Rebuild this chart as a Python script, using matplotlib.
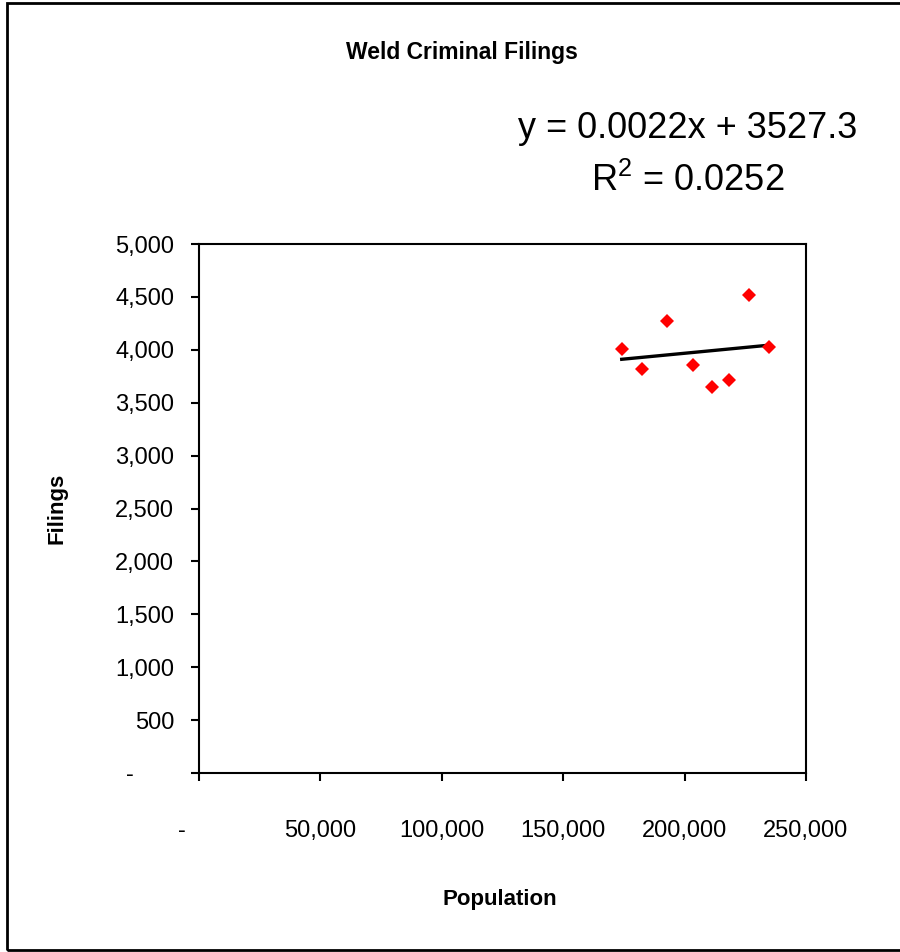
import matplotlib
matplotlib.use("Agg")
import matplotlib.pyplot as plt
import matplotlib.transforms as mtransforms
from matplotlib.patches import Rectangle
import numpy as np

plt.rcParams['font.family'] = ['Liberation Sans', 'DejaVu Sans']
plt.rcParams['mathtext.fontset'] = 'custom'
plt.rcParams['mathtext.rm'] = 'Liberation Sans'

# county population vs. criminal filings, one point per year
population = [174100, 182300, 192900, 203600, 211200, 218400, 226700, 234900]
filings = [4008, 3822, 4275, 3860, 3651, 3712, 4521, 4030]

# linear trendline as reported
slope = 0.0022
intercept = 3527.3
r_squared = 0.0252

x_ticks = [0, 50000, 100000, 150000, 200000, 250000]
y_ticks = [0, 500, 1000, 1500, 2000, 2500, 3000, 3500, 4000, 4500, 5000]


def acct(v):
    return "-" if v == 0 else f"{v:,}"


fig = plt.figure(figsize=(9, 9.52), dpi=100)
ax = fig.add_axes([199/900, 179/952, 607/900, 529/952])

ax.plot(population, filings, "D", color="#ff0000", markersize=7.5,
        markeredgewidth=0, zorder=3)
xs = np.array([min(population), max(population)])
ax.plot(xs, slope*xs + intercept, color="black", linewidth=2.4, zorder=2)

ax.set_xlim(0, 250000)
ax.set_ylim(0, 5000)
ax.set_xticks(x_ticks)
ax.set_yticks(y_ticks)
ax.set_xticklabels([acct(v) for v in x_ticks])
ax.set_yticklabels([acct(v) for v in y_ticks])
ax.tick_params(axis="both", direction="out", length=6, width=1.5,
               labelsize=17, colors="black")
ax.tick_params(axis="x", pad=28)
ax.tick_params(axis="y", pad=12)
for s in ax.spines.values():
    s.set_linewidth(1.5)

# zero labels sit offset like accounting format
fig.canvas.draw()
xl0 = ax.get_xticklabels()[0]
xl0.set_transform(xl0.get_transform() + mtransforms.ScaledTranslation(-17/100, 0, fig.dpi_scale_trans))
yl0 = ax.get_yticklabels()[0]
yl0.set_transform(yl0.get_transform() + mtransforms.ScaledTranslation(-40/100, 0, fig.dpi_scale_trans))

fig.text(462/900, 1 - 52/952, "Weld Criminal Filings", ha="center", va="center",
         fontsize=16.5, fontweight="bold")
fig.text(688/900, 1 - 128/952, f"y = {slope}x + {intercept}", ha="center",
         va="center", fontsize=26)
fig.text(688/900, 1 - 181/952, f"R$^2$ = {r_squared}", ha="center",
         va="center", fontsize=26)
fig.text(57/900, 1 - 508/952, "Filings", rotation=90, ha="center", va="center",
         fontsize=16, fontweight="bold")
fig.text(500/900, 1 - 900/952, "Population", ha="center", va="center",
         fontsize=16, fontweight="bold")

# outer chart frame (right side runs off the edge)
fig.patches.append(Rectangle((7/900, 2/952), 1.2, 947/952, transform=fig.transFigure,
                             fill=False, edgecolor="black", linewidth=2))

fig.savefig("out.png", dpi=100, facecolor="white")
